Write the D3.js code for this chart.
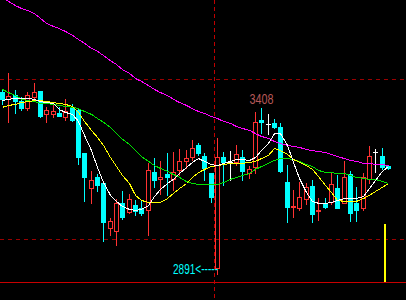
<!DOCTYPE html>
<html>
<head>
<meta charset="utf-8">
<script src="https://cdn.jsdelivr.net/npm/d3@7"></script>
<style>
  body { margin: 0; background: #000; }
  svg { display: block; }
</style>
</head>
<body>
<div id="chart"></div>
<script>
// daily candles (index points)
const open  = [3459,3438,3450,3431,3409,3444,3463,3391,3391,3394,3381,3409,3403,3269,3159,3194,3175,3034,3025,3113,3084,3106,3097,3091,3209,3188,3203,3188,3216,3244,3256,3294,3259,3206,2909,3256,3241,3241,3256,3206,3225,3372,3359,3363,3350,3178,3100,3097,3125,3166,3088,3113,3116,3159,3113,3203,3113,3097,3188,3272,3259,3228];
const high  = [3466,3519,3466,3444,3459,3488,3463,3413,3428,3413,3438,3422,3409,3269,3213,3203,3175,3066,3125,3150,3141,3122,3119,3238,3253,3244,3269,3272,3281,3278,3309,3300,3269,3206,3316,3272,3275,3294,3278,3228,3397,3408,3391,3375,3363,3231,3153,3178,3175,3184,3128,3128,3206,3200,3244,3213,3163,3206,3291,3281,3284,3231];
const low   = [3422,3366,3394,3403,3403,3438,3381,3366,3381,3384,3372,3369,3234,3119,3113,3150,2994,3013,2981,3063,3081,3075,3075,3013,3163,3141,3138,3153,3200,3222,3247,3263,3184,3116,2891,3169,3184,3231,3184,3191,3206,3331,3328,3347,3209,3053,3069,3091,3109,3053,3059,3097,3109,3097,3113,3056,3056,3091,3175,3209,3219,3219];
const close = [3438,3447,3431,3409,3450,3459,3384,3403,3400,3384,3400,3372,3256,3194,3184,3169,3053,3056,3113,3069,3125,3088,3081,3216,3184,3194,3194,3209,3244,3253,3284,3269,3222,3131,3256,3241,3241,3266,3213,3219,3366,3366,3359,3350,3213,3100,3103,3131,3163,3078,3091,3100,3172,3097,3194,3081,3091,3194,3259,3272,3225,3222];

// moving averages
const ma5  = [3434,3438,3441,3441,3441,3438,3431,3428,3425,3406,3397,3391,3369,3325,3278,3225,3178,3138,3119,3103,3094,3091,3094,3106,3134,3156,3175,3188,3206,3225,3241,3253,3244,3234,3231,3238,3244,3250,3250,3247,3256,3278,3300,3331,3331,3294,3241,3191,3147,3119,3113,3113,3116,3122,3128,3128,3128,3134,3159,3184,3213,3228];
const ma10 = [3413,3419,3422,3428,3431,3434,3434,3431,3428,3425,3422,3416,3397,3369,3341,3319,3294,3256,3228,3200,3175,3138,3122,3116,3116,3116,3128,3144,3159,3175,3194,3209,3219,3228,3231,3234,3238,3238,3238,3241,3244,3253,3263,3284,3278,3266,3250,3241,3231,3219,3197,3169,3147,3122,3119,3119,3119,3128,3138,3150,3163,3175];
const ma20 = [3469,3459,3450,3438,3434,3431,3425,3425,3422,3419,3416,3413,3409,3400,3391,3378,3366,3350,3331,3313,3297,3278,3259,3244,3231,3222,3213,3203,3194,3181,3175,3172,3172,3172,3172,3178,3188,3194,3200,3206,3219,3228,3238,3247,3253,3253,3250,3244,3234,3228,3216,3209,3209,3206,3206,3200,3194,3191,3188,3188,3181,3175];
const ma60 = [3756,3744,3731,3722,3716,3706,3691,3675,3666,3659,3650,3638,3625,3613,3597,3588,3575,3559,3547,3531,3519,3503,3494,3481,3469,3459,3450,3438,3428,3419,3409,3400,3394,3384,3378,3369,3363,3353,3347,3341,3331,3322,3316,3306,3300,3294,3291,3288,3281,3278,3275,3272,3266,3259,3253,3247,3244,3238,3238,3234,3234,3231];

// levels and marks
const gridLevels = [3000, 3500];
const highMark = { index: 41, value: 3408 };
const lowMark = { index: 34, value: 2891 };
const cursorIndex = 33.5;
const barMark = { index: 60.5, value: 3047 };

// set dimensions
const width = 406;
const height = 300;
const plotBottom = 282;

// scales
const xScale = d3.scaleLinear().domain([0, open.length - 1]).range([2, 388]);
const yScale = d3.scaleLinear().domain([3000, 3500]).range([239, 79]);
const px = i => Math.round(xScale(i));
const py = v => Math.round(yScale(v));

const upColor = '#ff3232';
const downColor = '#00ffff';

// create main svg
const chart = d3.select('#chart')
                .append('svg')
                .attr('width', width)
                .attr('height', height)
                .style('background', '#000');

// dashed price levels
chart.selectAll('.grid')
     .data(gridLevels)
     .enter()
     .append('line')
     .attr('x1', 0)
     .attr('x2', width)
     .attr('y1', d => py(d) + 0.5)
     .attr('y2', d => py(d) + 0.5)
     .attr('stroke', '#9a0000')
     .attr('stroke-dasharray', '4,4')
     .attr('shape-rendering', 'crispEdges');

// bottom frame line
chart.append('line')
     .attr('x1', 0)
     .attr('x2', width)
     .attr('y1', plotBottom + 0.5)
     .attr('y2', plotBottom + 0.5)
     .attr('stroke', '#c80000')
     .attr('shape-rendering', 'crispEdges');

// cursor line
chart.append('line')
     .attr('x1', px(cursorIndex) + 0.5)
     .attr('x2', px(cursorIndex) + 0.5)
     .attr('y1', 0)
     .attr('y2', height)
     .attr('stroke', '#c00000')
     .attr('stroke-dasharray', '4,3')
     .attr('shape-rendering', 'crispEdges');

// yellow marker bar
chart.append('line')
     .attr('x1', px(barMark.index))
     .attr('x2', px(barMark.index))
     .attr('y1', py(barMark.value))
     .attr('y2', plotBottom)
     .attr('stroke', '#ffff00')
     .attr('stroke-width', 2)
     .attr('shape-rendering', 'crispEdges');

// candles
const idx = d3.range(open.length);
const candle = chart.append('g')
                    .attr('shape-rendering', 'crispEdges')
                    .selectAll('g')
                    .data(idx)
                    .enter()
                    .append('g');

candle.each(function(i) {
    const g = d3.select(this);
    const c = px(i);
    const top = py(Math.max(open[i], close[i]));
    const bot = py(Math.min(open[i], close[i]));
    const hi = py(high[i]);
    const lo = py(low[i]);
    if (close[i] > open[i]) {
        // hollow up candle
        g.append('line').attr('x1', c + 0.5).attr('x2', c + 0.5)
         .attr('y1', hi).attr('y2', top).attr('stroke', upColor);
        g.append('line').attr('x1', c + 0.5).attr('x2', c + 0.5)
         .attr('y1', bot + 1).attr('y2', lo + 1).attr('stroke', upColor);
        g.append('rect').attr('x', c - 1.5).attr('y', top + 0.5)
         .attr('width', 4).attr('height', Math.max(bot - top, 1))
         .attr('fill', 'none').attr('stroke', upColor);
    } else if (close[i] < open[i]) {
        g.append('line').attr('x1', c + 0.5).attr('x2', c + 0.5)
         .attr('y1', hi).attr('y2', lo + 1).attr('stroke', downColor);
        g.append('rect').attr('x', c - 2).attr('y', top)
         .attr('width', 5).attr('height', Math.max(bot - top + 1, 1))
         .attr('fill', downColor);
    } else {
        g.append('line').attr('x1', c + 0.5).attr('x2', c + 0.5)
         .attr('y1', hi).attr('y2', lo + 1).attr('stroke', '#ffffff');
        g.append('line').attr('x1', c - 2).attr('x2', c + 3)
         .attr('y1', top + 0.5).attr('y2', top + 0.5).attr('stroke', '#ffffff');
    }
});

// moving average lines
const maLine = d3.line()
                 .x((d, i) => px(i) + 0.5)
                 .y(d => yScale(d) + 0.5);

[[ma60, '#ff00ff'], [ma20, '#00e000'], [ma10, '#ffff00'], [ma5, '#ffffff']].forEach(([data, color]) => {
    chart.append('path')
         .datum(data)
         .attr('d', maLine)
         .attr('fill', 'none')
         .attr('stroke', color)
         .attr('stroke-width', 1)
         .attr('shape-rendering', 'crispEdges');
});

// high / low labels
chart.append('text')
     .attr('x', px(highMark.index) + 0.5)
     .attr('y', py(highMark.value) - 4)
     .attr('text-anchor', 'middle')
     .attr('font-family', 'Liberation Sans, Arial, sans-serif')
     .attr('font-size', 14)
     .attr('textLength', 24)
     .attr('lengthAdjust', 'spacingAndGlyphs')
     .attr('fill', '#b85858')
     .text(highMark.value);

chart.append('text')
     .attr('x', px(lowMark.index) + 1)
     .attr('y', py(lowMark.value))
     .attr('text-anchor', 'end')
     .attr('font-family', 'Liberation Sans, Arial, sans-serif')
     .attr('font-size', 14)
     .attr('textLength', 45)
     .attr('lengthAdjust', 'spacingAndGlyphs')
     .attr('fill', '#00ffff')
     .text(lowMark.value + '<-----');
</script>
</body>
</html>
